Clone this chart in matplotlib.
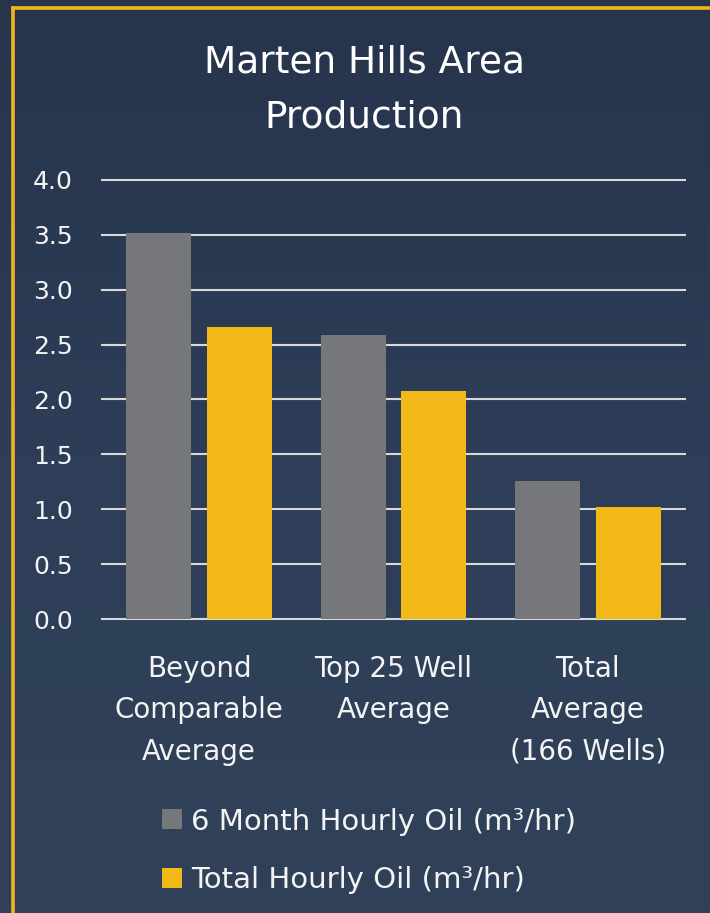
import numpy as np
import matplotlib
matplotlib.use('Agg')
import matplotlib.pyplot as plt
from matplotlib.lines import Line2D

# data
categories = ['Beyond\nComparable\nAverage', 'Top 25 Well\nAverage', 'Total\nAverage\n(166 Wells)']
six_month = [3.52, 2.59, 1.26]
total_hourly = [2.66, 2.08, 1.02]
series_names = ['6 Month Hourly Oil (m³/hr)', 'Total Hourly Oil (m³/hr)']
y_ticks = [0.0, 0.5, 1.0, 1.5, 2.0, 2.5, 3.0, 3.5, 4.0]

GRAY = '#76777b'
GOLD = '#f2b918'
TXT = '#f4f4f4'

plt.rcParams['font.family'] = ['DejaVu Sans']

fig = plt.figure(figsize=(7.1, 9.13), dpi=100)

# navy gradient background
bg = fig.add_axes([0, 0, 1, 1], zorder=-10)
grad = np.linspace(0, 1, 256).reshape(-1, 1)
cmap = matplotlib.colors.LinearSegmentedColormap.from_list('bg', ['#26344c', '#2e3e58', '#304159'])
bg.imshow(grad, aspect='auto', cmap=cmap, extent=[0, 1, 0, 1], origin='upper')
bg.axis('off')

ax = fig.add_axes([0.1437, 0.322, 0.8211, 0.481])
ax.set_facecolor('none')

x = np.arange(len(categories))
w = 0.334
b1 = ax.bar(x - 0.208, six_month, width=w, color=GRAY, zorder=3, label=series_names[0])
b2 = ax.bar(x + 0.208, total_hourly, width=w, color=GOLD, zorder=3, label=series_names[1])

ax.set_xlim(-0.5, 2.5)
ax.set_ylim(0, 4.0)
ax.set_yticks(y_ticks)
ax.set_yticklabels([f'{v:.1f}' for v in y_ticks])
ax.set_xticks(x)
ax.set_xticklabels(categories, linespacing=1.6)
ax.yaxis.grid(True, color='#d9d9d9', linewidth=1.5, zorder=1)
for gl in ax.get_ygridlines():
    gl.set_clip_on(False)
ax.set_axisbelow(True)
for s in ax.spines.values():
    s.set_visible(False)
ax.tick_params(axis='y', length=0, pad=21, labelsize=18, labelcolor=TXT)
ax.tick_params(axis='x', length=0, pad=26, labelsize=20, labelcolor=TXT)

fig.text(364 / 710, 1 - 90 / 913, 'Marten Hills Area\nProduction', ha='center', va='center',
         fontsize=27, color='white', linespacing=1.65)

fig.legend(handles=[b1, b2], labels=series_names, loc='upper left',
           bbox_to_anchor=(150 / 710, 1 - 796 / 913), frameon=False,
           fontsize=21, labelcolor=TXT, handlelength=0.68, handleheight=0.68,
           handletextpad=0.33, labelspacing=1.05, borderaxespad=0)

# yellow frame on left and top edges
fig.add_artist(Line2D([13 / 710, 13 / 710], [0, 1 - 8 / 913], color='#f0b41c', linewidth=2.6,
                      transform=fig.transFigure, solid_capstyle='projecting'))
fig.add_artist(Line2D([13 / 710, 1], [1 - 8 / 913, 1 - 8 / 913], color='#f0b41c', linewidth=2.6,
                      transform=fig.transFigure, solid_capstyle='projecting'))

fig.savefig('out.png', dpi=100)
